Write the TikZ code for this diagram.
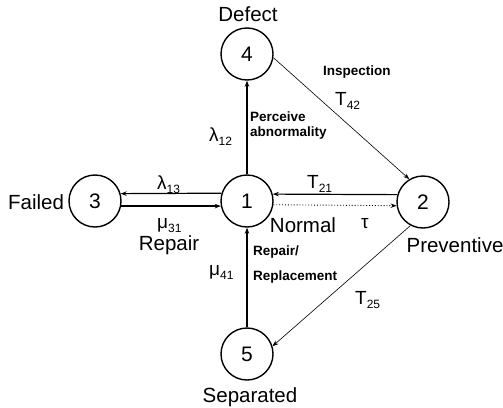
\documentclass[tikz,border=0pt]{standalone}
\usepackage{fontspec}
\setmainfont{Liberation Sans}
\usetikzlibrary{arrows.meta}
\newcommand{\glab}[2]{{\fontsize{19}{19}\selectfont #1}\raisebox{-4pt}{\fontsize{12}{12}\selectfont #2}}
\tikzset{
  state/.style={circle, draw, line width=1.4pt, minimum size=52pt, inner sep=0pt, font=\fontsize{21}{21}\selectfont},
  lbl/.style={font=\fontsize{20.5}{20.5}\selectfont, inner sep=0pt},
  sm/.style={font=\bfseries\fontsize{13.5}{15}\selectfont, inner sep=0pt, anchor=west},
  gk/.style={inner sep=0pt, anchor=base west},
  arr/.style={line width=1.2pt, -{Stealth[length=6pt,width=4.5pt]}},
  tarr/.style={line width=0.6pt, -{Stealth[length=6pt,width=4.5pt]}},
  darr/.style={line width=0.9pt, dotted, -{Stealth[length=6pt,width=4.5pt]}}
}
\begin{document}
\begin{tikzpicture}[x=1pt,y=-1pt]
\useasboundingbox (0,0) rectangle (503,407);
% states
\node[state] (n1) at (247,201) {1};
\node[state] (n2) at (423,202) {2};
\node[state] (n3) at (95,201) {3};
\node[state] (n4) at (247,54) {4};
\node[state] (n5) at (247,354) {5};
% names
\node[lbl] (ldefect) at (248,14) {Defect};
\node[lbl] (lfailed) at (36,202) {Failed};
\node[lbl] (lnormal) at (303,225) {Normal};
\node[lbl] (lprev) at (455,245) {Preventive};
\node[lbl] (lsep) at (250,397) {Separated};
\node[lbl] (lrepair) at (169,245) {Repair};
% transitions
\draw[arr] (n1) -- (n4);
\draw[arr] (n1.163.2) -- (n3.16.8);
\draw[arr] (n3.-11) -- (n1.191);
\draw[arr] (n2.164.4) -- (n1.15.6);
\draw[darr] (n1.-8.8) -- (n2.188.8);
\draw[arr] (n5) -- (n1);
\draw[tarr] (n4.-8) -- (n2.121);
\draw[tarr] (n2.242) -- (n5.17);
% rate labels
\node[gk] (l13) at (157,189) {\glab{λ}{13}};
\node[gk] (m31) at (157,228) {\glab{μ}{31}};
\node[gk] (t21) at (307,188) {\glab{T}{21}};
\node[gk] (tau) at (361,228) {\glab{τ}{}};
\node[gk] (l12) at (209,141) {\glab{λ}{12}};
\node[gk] (t42) at (335,105) {\glab{T}{42}};
\node[gk] (m41) at (209,275) {\glab{μ}{41}};
\node[gk] (t25) at (355,304) {\glab{T}{25}};
% descriptions
\node[sm] (insp) at (323,72) {Inspection};
\node[sm] (perc) at (250,117) {Perceive};
\node[sm] (abn) at (250,133) {abnormality};
\node[sm] (rep) at (253,252) {Repair/};
\node[sm] (repl) at (253,277) {Replacement};
\end{tikzpicture}
\end{document}
